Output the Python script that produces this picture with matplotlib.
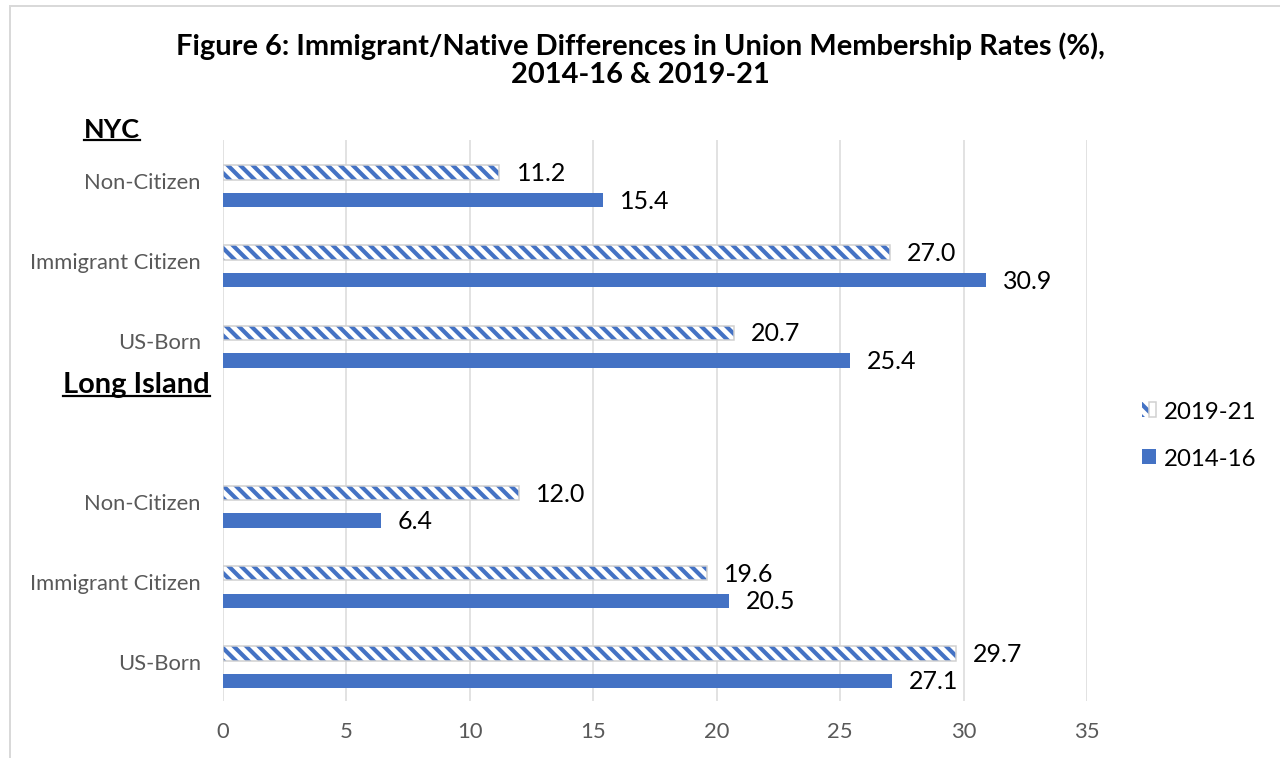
import matplotlib
matplotlib.use("Agg")
import matplotlib.pyplot as plt
from matplotlib.patches import Patch
from matplotlib.legend_handler import HandlerTuple
from matplotlib.lines import Line2D

# ---- data ----
categories = ["Non-Citizen", "Immigrant Citizen", "US-Born", "",
              "Non-Citizen", "Immigrant Citizen", "US-Born"]
vals_2019_21 = [11.2, 27.0, 20.7, None, 12.0, 19.6, 29.7]
vals_2014_16 = [15.4, 30.9, 25.4, None, 6.4, 20.5, 27.1]
series_names = ["2019-21", "2014-16"]
xticks = [0, 5, 10, 15, 20, 25, 30, 35]
title = "Figure 6: Immigrant/Native Differences in Union Membership Rates (%),\n2014-16 & 2019-21"
group_labels = ["NYC", "Long Island"]

BLUE = "#4472C4"
GRID = "#D9D9D9"
TICK = "#595959"
FONT = "Lato"
HATCH = "\\\\\\\\"

DPI = 150
plt.rcParams["font.family"] = [FONT, "DejaVu Sans"]
plt.rcParams["hatch.linewidth"] = 2.0

W, H = 1280, 759
fig = plt.figure(figsize=(W / DPI, H / DPI), dpi=DPI)
def px(v):  # pixels -> points
    return v * 72 / DPI

ax_left, ax_right, ax_top, ax_bot = 223, 1087, 141, 702
ax = fig.add_axes([ax_left / W, 1 - ax_bot / H, (ax_right - ax_left) / W, (ax_bot - ax_top) / H])

n = len(categories)
pos = list(range(n))
h = 0.18
off_h, off_s = -0.094, 0.25

for i in pos:
    a = vals_2019_21[i]
    b = vals_2014_16[i]
    if a is not None:
        ax.barh(i + off_h, a, height=h, color="white", hatch=HATCH, edgecolor=BLUE, linewidth=0, zorder=3)
        ax.barh(i + off_h, a, height=h, fill=False, edgecolor="#D0D0D0", linewidth=px(1.5), zorder=4)
        ax.annotate(f"{a:.1f}", (a, i + off_h), xytext=(px(17), 0), textcoords="offset points",
                    va="center", ha="left", fontsize=px(25), color="black")
    if b is not None:
        ax.barh(i + off_s, b, height=h, color=BLUE, linewidth=0, zorder=3)
        ax.annotate(f"{b:.1f}", (b, i + off_s), xytext=(px(17), 0), textcoords="offset points",
                    va="center", ha="left", fontsize=px(25), color="black")

ax.set_ylim(n - 0.5, -0.5)
ax.set_xlim(0, 35)
ax.set_yticks(pos)
ax.set_yticklabels(categories, fontsize=px(22), color=TICK)
ax.set_xticks(xticks)
ax.set_xticklabels([str(t) for t in xticks], fontsize=px(22), color=TICK)
ax.tick_params(axis="both", length=0)
ax.tick_params(axis="y", pad=px(22))
ax.tick_params(axis="x", pad=px(20))
ax.grid(axis="x", color=GRID, linewidth=px(1.5), zorder=0)
ax.set_axisbelow(True)
for s in ax.spines.values():
    s.set_visible(False)

# title
fig.text(640 / W, 1 - 60 / H, title, ha="center", va="center", fontsize=px(29),
         fontweight="bold", linespacing=1.1)

# group labels
t1 = fig.text(140 / W, 1 - 130 / H, group_labels[0], ha="right", va="center",
              fontsize=px(27), fontweight="bold")
t2 = fig.text(210 / W, 1 - 385 / H, group_labels[1], ha="right", va="center",
              fontsize=px(29), fontweight="bold")

# legend
h1 = (Patch(facecolor="white", hatch=HATCH, edgecolor=BLUE, linewidth=0),
      Patch(fill=False, edgecolor="#D0D0D0", linewidth=px(1.5)))
h2 = Patch(facecolor=BLUE, edgecolor=BLUE, linewidth=0)
fig.legend([h1, h2], series_names, handler_map={tuple: HandlerTuple(ndivide=None, pad=0)},
           loc="center left", bbox_to_anchor=(1142 / W, 1 - 436 / H), frameon=False,
           fontsize=px(24), handlelength=0.58, handleheight=0.58, handletextpad=0.35,
           labelspacing=1.05, labelcolor="black", borderaxespad=0, borderpad=0)

# figure border (top and left visible)
fig.add_artist(Line2D([10 / W, 10 / W], [0, 1 - 7 / H], transform=fig.transFigure, color="#D9D9D9", linewidth=px(2)))
fig.add_artist(Line2D([10 / W, 1], [1 - 7 / H, 1 - 7 / H], transform=fig.transFigure, color="#D9D9D9", linewidth=px(2)))

# underline group labels
fig.canvas.draw()
r = fig.canvas.get_renderer()
for t in (t1, t2):
    bb = t.get_window_extent(r)
    y = bb.y0 + 1
    fig.add_artist(Line2D([bb.x0 / W, bb.x1 / W], [y / H, y / H], transform=fig.transFigure,
                          color="black", linewidth=px(2.2)))

fig.savefig("out.png", dpi=DPI)
